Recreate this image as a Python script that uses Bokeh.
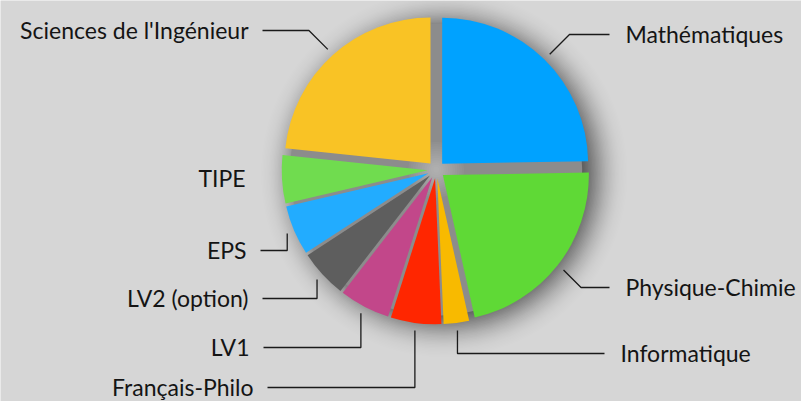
import math
import numpy as np
from bokeh.plotting import figure
from bokeh.models import Range1d, ColumnDataSource
from bokeh.core.properties import value
from bokeh.embed import file_html
from bokeh.resources import INLINE

# ---- data ----
names = ["Mathématiques", "Physique-Chimie", "Informatique", "Français-Philo",
         "LV1", "LV2 (option)", "EPS", "TIPE", "Sciences de l'Ingénieur"]
shares = [24.72, 21.78, 2.81, 5.58, 5.61, 5.31, 5.53, 5.33, 23.33]
colors = ["#00a2ff", "#5fd936", "#f8ba00", "#ff2600", "#c2478a",
          "#5e5e5e", "#22acff", "#70dc4f", "#f9c325"]

# ---- layout (page pixel coords, y down) ----
label_x = [625, 625, 620, 253, 249, 248, 246, 245, 248]
label_y = [33, 286, 352, 386, 346, 297, 249, 177, 29]
label_align = ["left", "left", "left", "right", "right", "right", "right", "right", "right"]
leader_kind = ["diag", "diag", "vert", "vert", "vert", "vert", "vert", "none", "diag"]

W, H = 801, 401
CX, CY = 435.7, 169.3
R = 146.0
EXPLODE = 8.5
LEADER_R = 162.0
BG = "#d6d6d6"

def dy(page_y):
    return H - page_y

cy = dy(CY)

p = figure(width=W, height=H, output_backend="svg", toolbar_location=None,
           x_range=Range1d(0, W), y_range=Range1d(0, H),
           x_axis_location=None, y_axis_location=None, min_border=0)
p.background_fill_color = BG
p.border_fill_color = BG
p.outline_line_color = None
p.xgrid.visible = False
p.ygrid.visible = False

# ---- soft shadow (blurred disc) ----
def phi(z):
    return 0.5 * (1 + math.erf(z / math.sqrt(2)))

SH_DX, SH_DY, SH_R, SIG, A = 8, 4, 151, 15, 0.66
radii = np.linspace(SH_R + 3.5 * SIG, SH_R - 3 * SIG, 70)
T = [A * (1 - phi((r - SH_R) / SIG)) for r in radii]
alphas = []
prev = 0.0
for t in T:
    a = 1 - (1 - t) / (1 - prev)
    alphas.append(max(a, 0.0))
    prev = t
p.circle(x=[CX + SH_DX] * len(radii), y=[cy - SH_DY] * len(radii), radius=list(radii),
         fill_color="black", fill_alpha=alphas, line_color=None)

# inner gap colour
p.circle(x=[CX], y=[cy], radius=R, fill_color="#8c8c8c", line_color=None)
for r in np.linspace(28, 3, 12):
    p.circle(x=[CX], y=[cy], radius=r, fill_color="white", fill_alpha=0.035, line_color=None)

# ---- slices ----
tot = sum(shares)
cum = np.concatenate([[0], np.cumsum(shares)]) / tot * 360.0
th0 = cum[:-1]
th1 = cum[1:]
mid = (th0 + th1) / 2
xs = CX + EXPLODE * np.sin(np.radians(mid))
ys = cy + EXPLODE * np.cos(np.radians(mid))
start = np.radians(90 - th1)
end = np.radians(90 - th0)
src = ColumnDataSource(dict(x=xs, y=ys, s=start, e=end, c=colors))
p.wedge(x="x", y="y", radius=R, start_angle="s", end_angle="e", fill_color="c",
        line_color=None, source=src)

# ---- leader lines ----
lx, ly = [], []
for i in range(len(names)):
    if leader_kind[i] == "none":
        continue
    sx = CX + LEADER_R * math.sin(math.radians(mid[i]))
    sy = CY - LEADER_R * math.cos(math.radians(mid[i]))
    ty = label_y[i] + 1
    if leader_kind[i] == "diag":
        sign = 1 if label_align[i] == "left" else -1
        ex = sx + sign * abs(ty - sy)
    else:
        ex = sx
    endx = label_x[i] - 16 if label_align[i] == "left" else label_x[i] + 14
    lx.append([sx, ex, endx])
    ly.append([dy(sy), dy(ty), dy(ty)])
p.multi_line(xs=lx, ys=ly, line_color="#1a1a1a", line_width=1.3)

# ---- labels ----
p.text(x=label_x, y=[dy(v) for v in label_y], text=names, text_align=label_align,
       text_baseline="middle", text_font=value("Lato"), text_font_size="23px",
       text_color="#141414")

open("out.html", "w").write(file_html(p, INLINE))
